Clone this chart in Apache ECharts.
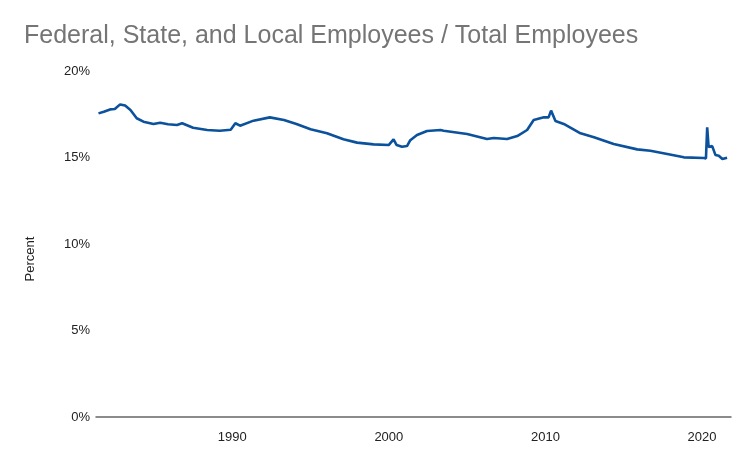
<!DOCTYPE html>
<html>
<head>
<meta charset="utf-8">
<script src="https://cdn.jsdelivr.net/npm/echarts@6/dist/echarts.min.js"></script>
<style>
html, body { margin: 0; padding: 0; background: #fff; }
#chart { width: 750px; height: 463px; }
</style>
</head>
<body>
<div id="chart"></div>
<script>
// values (decimal year, percent)
var years = [1981.46, 1981.8, 1982.2, 1982.5, 1982.84, 1983.16, 1983.5, 1983.9, 1984.33, 1984.97,
    1985.4, 1985.9, 1986.47, 1986.8, 1987.5, 1988.4, 1989.2, 1989.9, 1990.2, 1990.5,
    1991.36, 1992.4, 1993.3, 1994.1, 1995, 1996.05, 1997.1, 1997.97, 1999.03, 1999.99,
    2000.3, 2000.5, 2000.84, 2001.16, 2001.37, 2001.8, 2002.44, 2003.3, 2003.5, 2005,
    2006.27, 2006.7, 2007.55, 2008.2, 2008.83, 2009.25, 2009.9, 2010.2, 2010.36, 2010.64,
    2011.17, 2012.24, 2013.1, 2014.36, 2015.86, 2016.7, 2017.78, 2018.84, 2020.12, 2020.25,
    2020.33, 2020.42, 2020.48, 2020.65, 2020.86, 2021.07, 2021.3, 2021.6];
var pct = [17.55, 17.65, 17.78, 17.8, 18.07, 18.0, 17.75, 17.27, 17.07, 16.94,
    17.01, 16.92, 16.88, 16.98, 16.72, 16.59, 16.55, 16.6, 16.98, 16.84,
    17.13, 17.32, 17.17, 16.94, 16.63, 16.4, 16.05, 15.86, 15.76, 15.72,
    16.05, 15.72, 15.62, 15.66, 16.0, 16.3, 16.53, 16.59, 16.55, 16.36,
    16.07, 16.13, 16.07, 16.24, 16.59, 17.17, 17.32, 17.32, 17.71, 17.11,
    16.94, 16.4, 16.17, 15.78, 15.47, 15.39, 15.2, 15.01, 14.97, 14.95,
    16.75, 15.6, 15.53, 15.66, 15.14, 15.1, 14.91, 14.99];
var yearTicks = [1990, 2000, 2010, 2020];

var points = [];
for (var i = 0; i < years.length; i++) {
    points.push([years[i], pct[i]]);
}

var font = 'Liberation Sans, Arial, sans-serif';
var chart = echarts.init(document.getElementById('chart'));
var option = {
    animation: false,
    title: {
        text: 'Federal, State, and Local Employees / Total Employees',
        left: 19,
        top: 19,
        textStyle: { fontFamily: font, fontSize: 25, fontWeight: 'normal', color: '#757575' }
    },
    // y axis title, placed a little below the axis middle as in the original
    graphic: [{
        type: 'text',
        x: 30,
        y: 259,
        rotation: Math.PI / 2,
        style: { text: 'Percent', font: '13px ' + font, fill: '#222', align: 'center', verticalAlign: 'middle' }
    }],
    grid: { left: 96, right: 19, top: 71, bottom: 46 },
    xAxis: {
        type: 'value',
        min: 1981.3,
        max: 2021.85,
        splitLine: { show: false },
        axisLine: { lineStyle: { color: '#666', width: 1.5 } },
        axisTick: { show: false },
        axisLabel: {
            customValues: yearTicks,
            margin: 14,
            fontFamily: font,
            fontSize: 13,
            color: '#222',
            formatter: function (v) { return String(v); }
        }
    },
    yAxis: {
        type: 'value',
        min: 0,
        max: 20,
        interval: 5,
        splitLine: { show: false },
        axisLine: { show: false },
        axisTick: { show: false },
        axisLabel: {
            margin: 6,
            fontFamily: font,
            fontSize: 13,
            color: '#222',
            formatter: '{value}%'
        }
    },
    series: [{
        type: 'line',
        data: points,
        showSymbol: false,
        lineStyle: { color: '#0b519c', width: 2.6 }
    }]
};
chart.setOption(option);
</script>
</body>
</html>
